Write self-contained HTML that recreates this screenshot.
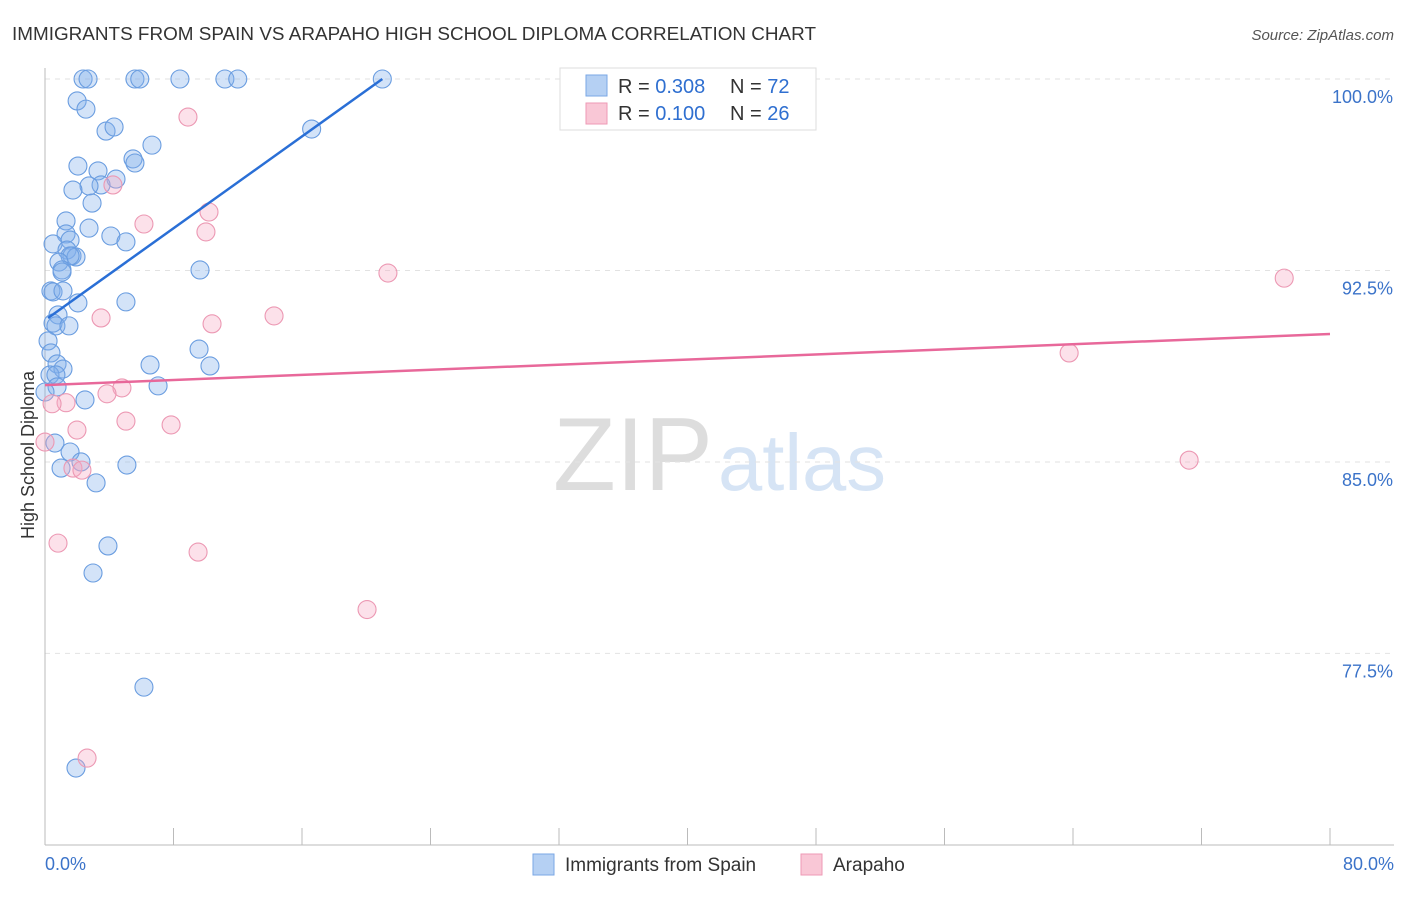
<!DOCTYPE html>
<html><head><meta charset="utf-8"><style>
body{margin:0;background:#fff;font-family:"Liberation Sans",sans-serif;}
svg text{font-family:"Liberation Sans",sans-serif;}
</style></head><body>
<svg id="chart" width="1406" height="892" xmlns="http://www.w3.org/2000/svg">
<text x="12" y="40" font-size="18" fill="#333" textLength="804" lengthAdjust="spacingAndGlyphs">IMMIGRANTS FROM SPAIN VS ARAPAHO HIGH SCHOOL DIPLOMA CORRELATION CHART</text>
<text x="1394" y="40" font-size="15" fill="#555" text-anchor="end" font-style="italic">Source: ZipAtlas.com</text>
<text x="553" y="490" font-size="104" fill="#ddd" font-family="Liberation Serif,serif" textLength="160" lengthAdjust="spacingAndGlyphs">ZIP</text>
<text x="718" y="490" font-size="80" fill="#d6e4f5" textLength="168" lengthAdjust="spacingAndGlyphs">atlas</text>
<g id="grid"></g><g id="axes"></g><g id="pts"></g><g id="lines"></g>
<text transform="translate(34,455) rotate(-90)" font-size="18" fill="#333" text-anchor="middle">High School Diploma</text>
<g>
<rect x="560" y="68" width="256" height="62" fill="#fff" stroke="#ddd"/>
<rect x="586" y="75" width="21" height="21" fill="#b5d0f3" stroke="#7aa7e6"/>
<rect x="586" y="103" width="21" height="21" fill="#f9c7d6" stroke="#ee9ab5"/>
<text x="618" y="93" font-size="20" fill="#333">R = <tspan fill="#2f6fd0">0.308</tspan></text>
<text x="730" y="93" font-size="20" fill="#333">N = <tspan fill="#2f6fd0">72</tspan></text>
<text x="618" y="120" font-size="20" fill="#333">R = <tspan fill="#2f6fd0"> 0.100</tspan></text>
<text x="730" y="120" font-size="20" fill="#333">N = <tspan fill="#2f6fd0">26</tspan></text>
</g>
<g>
<rect x="533" y="854" width="21" height="21" fill="#b5d0f3" stroke="#7aa7e6"/>
<text x="565" y="871" font-size="19" fill="#333">Immigrants from Spain</text>
<rect x="801" y="854" width="21" height="21" fill="#f9c7d6" stroke="#ee9ab5"/>
<text x="833" y="871" font-size="19" fill="#333">Arapaho</text>
</g>
</svg>
<script>
const blueX=[2.37,2.68,5.6,5.9,8.4,11.2,12.0,21.0,2.0,2.55,3.8,4.3,6.66,16.6,2.05,3.3,5.48,5.6,4.42,3.49,2.74,1.74,2.93,1.31,2.74,1.31,0.5,1.56,4.1,5.04,1.37,1.68,1.93,1.56,0.87,1.06,1.06,9.65,0.37,0.5,1.12,2.05,5.04,0.81,0.5,0.68,1.49,0.19,0.37,0.75,6.54,10.27,9.59,1.12,0.31,0.68,0.75,7.04,2.49,0.62,1.56,2.24,1.0,5.1,3.18,3.92,2.99,6.16,1.93,0];
const blueY=[100,100,100,100,100,100,100,100,99.14,98.82,97.96,98.12,97.41,98.04,96.59,96.4,96.87,96.71,96.08,95.85,95.81,95.65,95.14,94.44,94.16,93.93,93.54,93.69,93.85,93.62,93.3,93.07,93.03,93.07,92.83,92.52,92.44,92.52,91.7,91.66,91.7,91.23,91.27,90.76,90.44,90.33,90.33,89.74,89.27,88.84,88.8,88.76,89.42,88.64,88.41,88.41,87.94,87.98,87.43,85.74,85.39,85.0,84.76,84.88,84.18,81.71,80.65,76.18,73.01,87.74];
const pinkX=[8.9,6.16,4.23,10.21,10.02,21.35,77.15,3.49,10.4,14.26,63.76,4.79,3.86,1.31,0.44,5.04,7.85,1.99,0,1.74,2.3,71.23,0.81,9.53,20.05,2.62];
const pinkY=[98.51,94.32,95.85,94.79,94.01,92.4,92.2,90.64,90.41,90.72,89.27,87.9,87.67,87.32,87.28,86.6,86.45,86.25,85.78,84.76,84.68,85.07,81.82,81.47,79.22,73.4];
const blueLine=[0.19,90.64,21.0,100];
const pinkLine=[0,88.01,80,90.01];
const yTicks=[100,92.5,85,77.5];
const xTickCount=10;
const NS="http://www.w3.org/2000/svg";
const X=v=>45+v*(1285/80), Y=v=>79+(100-v)*25.53;
function mk(p,t,a){const e=document.createElementNS(NS,t);for(const k in a)e.setAttribute(k,a[k]);document.getElementById(p).appendChild(e);return e;}
yTicks.forEach(t=>{
 const l=mk('grid','line',{x1:45,x2:1394,y1:Y(t),y2:Y(t),stroke:'#e2e2e2','stroke-dasharray':'5,5'});
 
 
 const tx=mk('grid','text',{x:1393,y:Y(t)+24,'font-size':18,fill:'#3b73c9','text-anchor':'end'});
 tx.textContent=t.toFixed(1)+'%';
 
 
});
mk('axes','line',{x1:45,x2:45,y1:68,y2:845,stroke:'#bbb'});
mk('axes','line',{x1:45,x2:1394,y1:845,y2:845,stroke:'#bbb'});
for(let i=0;i<=xTickCount;i++){const x=X(i*8);mk('axes','line',{x1:x,x2:x,y1:828,y2:845,stroke:'#bbb'});}
const x0=mk('axes','text',{x:45,y:870,'font-size':18,fill:'#3b73c9'});x0.textContent='0.0%';


const x1=mk('axes','text',{x:1394,y:870,'font-size':18,fill:'#3b73c9','text-anchor':'end'});x1.textContent='80.0%';


blueX.forEach((v,i)=>{const c=mk('pts','circle',{cx:X(v),cy:Y(blueY[i]),r:9,fill:'rgba(130,176,235,0.35)',stroke:'#6a9de0','stroke-width':1.1});
 
 });
pinkX.forEach((v,i)=>{const c=mk('pts','circle',{cx:X(v),cy:Y(pinkY[i]),r:9,fill:'rgba(246,170,195,0.35)',stroke:'#ec98b3','stroke-width':1.1});
 
 });
const bl=mk('lines','line',{x1:X(blueLine[0]),y1:Y(blueLine[1]),x2:X(blueLine[2]),y2:Y(blueLine[3]),stroke:'#2a6fd6','stroke-width':2.5});


const pl=mk('lines','line',{x1:X(pinkLine[0]),y1:Y(pinkLine[1]),x2:X(pinkLine[2]),y2:Y(pinkLine[3]),stroke:'#e8689a','stroke-width':2.5});


</script>
</body></html>
